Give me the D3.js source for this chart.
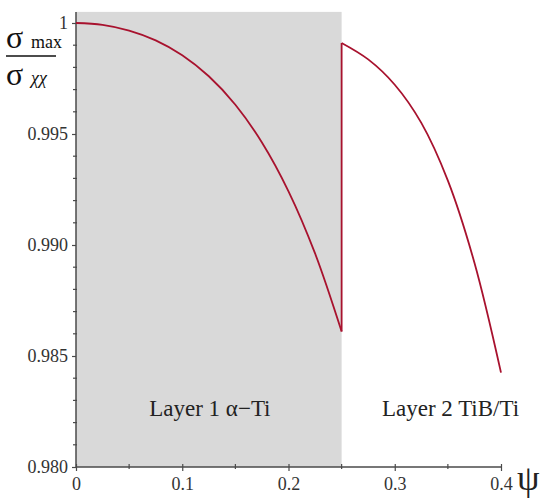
<!DOCTYPE html>
<html><head><meta charset="utf-8">
<script src="https://cdn.jsdelivr.net/npm/d3@7/dist/d3.min.js"></script>
<style>body{margin:0;background:#fff}svg{display:block}</style>
</head><body>
<script>
// Data
const layer1Psi = [0, 0.025, 0.05, 0.075, 0.1, 0.125, 0.15, 0.175, 0.2, 0.225, 0.25];
const layer1Val = [1.0, 0.99992, 0.99966, 0.99922, 0.99855, 0.99760, 0.99632, 0.99462, 0.99242, 0.98962, 0.98610];
const layer2Psi = [0.25, 0.275, 0.3, 0.325, 0.35, 0.375, 0.4];
const layer2Val = [0.99910, 0.99836, 0.99722, 0.99550, 0.99290, 0.98920, 0.98425];
const xTicks = [0, 0.1, 0.2, 0.3, 0.4];
const xTickLabels = ["0", "0.1", "0.2", "0.3", "0.4"];
const xMinor = [0.05, 0.15, 0.25, 0.35];
const yTicks = [0.98, 0.985, 0.99, 0.995, 1.0];
const yTickLabels = ["0.980", "0.985", "0.990", "0.995", "1"];
const yMinor = d3.range(0, 20).map(i => +(0.98 + i * 0.001).toFixed(3)).filter(v => !yTicks.some(t => Math.abs(t - v) < 1e-9));
const layerLabels = ["Layer 1 α\u2212Ti", "Layer 2 TiB/Ti"];
const layerCenters = [0.126, 0.3525];
const shadeRange = [0, 0.25];

const W = 550, H = 503;
const svg = d3.select("body").append("svg").attr("width", W).attr("height", H);
const x = d3.scaleLinear().domain([0, 0.4]).range([76, 501]);
const y = d3.scaleLinear().domain([0.98, 1.0]).range([467, 23]);
const serif = "'Liberation Serif', 'Times New Roman', serif";

// shaded region
svg.append("rect")
  .attr("x", x(shadeRange[0])).attr("y", y(1.0005))
  .attr("width", x(shadeRange[1]) - x(shadeRange[0]))
  .attr("height", y(0.98) - y(1.0005))
  .attr("fill", "#d9d9d9");

// layer labels
svg.selectAll("text.layer").data(layerLabels).enter().append("text")
  .attr("class", "layer")
  .attr("x", (d, i) => x(layerCenters[i])).attr("y", 416)
  .attr("text-anchor", "middle")
  .attr("font-family", serif).attr("font-size", 23).attr("fill", "#222")
  .text(d => d);

// axes
const axisColor = "#4a4a4a";
const xAxis = d3.axisBottom(x).tickValues(xTicks).tickFormat((d, i) => xTickLabels[i]).tickSize(4).tickPadding(6);
const gx = svg.append("g").attr("transform", `translate(0,${y(0.98)})`).call(xAxis);
gx.select(".domain").attr("stroke", axisColor).attr("stroke-width", 1.5).attr("d", `M${x(0)},0H${x(0.4)}`);
gx.selectAll(".tick line").attr("stroke", axisColor).attr("y1", -3).attr("stroke-width", 1.2);
gx.selectAll(".tick text").attr("font-family", serif).attr("font-size", 18).attr("fill", "#333");
const gxm = svg.append("g").attr("transform", `translate(0,${y(0.98)})`);
gxm.selectAll("line").data(xMinor).enter().append("line")
  .attr("x1", d => x(d)).attr("x2", d => x(d)).attr("y1", -3).attr("y2", 2)
  .attr("stroke", axisColor).attr("stroke-width", 1.2);

const yAxis = d3.axisLeft(y).tickValues(yTicks).tickFormat((d, i) => yTickLabels[i]).tickSize(4).tickPadding(4);
const gy = svg.append("g").attr("transform", `translate(${x(0)},0)`).call(yAxis);
gy.select(".domain").attr("stroke", axisColor).attr("stroke-width", 1.5).attr("d", `M0,${y(0.98)}V${y(1.0005)}`);
gy.selectAll(".tick line").attr("stroke", axisColor).attr("stroke-width", 1.2);
gy.selectAll(".tick text").attr("font-family", serif).attr("font-size", 18).attr("fill", "#333");
const gym = svg.append("g").attr("transform", `translate(${x(0)},0)`);
gym.selectAll("line").data(yMinor).enter().append("line")
  .attr("x1", -3).attr("x2", 1).attr("y1", d => y(d)).attr("y2", d => y(d))
  .attr("stroke", axisColor).attr("stroke-width", 1.2);

// curves
const lineColor = "#a8122e";
const line = d3.line().x(d => x(d[0])).y(d => y(d[1])).curve(d3.curveCatmullRom);
svg.append("path").datum(layer1Psi.map((p, i) => [p, layer1Val[i]]))
  .attr("d", line).attr("fill", "none").attr("stroke", lineColor).attr("stroke-width", 1.8);
svg.append("path").datum([[layer1Psi[layer1Psi.length - 1], layer1Val[layer1Val.length - 1]], [layer2Psi[0], layer2Val[0]]])
  .attr("d", d3.line().x(d => x(d[0])).y(d => y(d[1]))).attr("fill", "none").attr("stroke", lineColor).attr("stroke-width", 1.8);
svg.append("path").datum(layer2Psi.map((p, i) => [p, layer2Val[i]]))
  .attr("d", line).attr("fill", "none").attr("stroke", lineColor).attr("stroke-width", 1.8);

// axis titles
svg.append("text").attr("x", 517).attr("y", 490).attr("font-family", serif).attr("font-size", 36).attr("fill", "#222").text("ψ");
const yl = svg.append("g").attr("font-family", serif).attr("fill", "#111");
yl.append("text").attr("x", 6).attr("y", 48).attr("font-size", 32).text("σ");
yl.append("text").attr("x", 31).attr("y", 48).attr("font-size", 18).text("max");
yl.append("line").attr("x1", 6).attr("x2", 56).attr("y1", 56).attr("y2", 56).attr("stroke", "#111").attr("stroke-width", 1.5);
yl.append("text").attr("x", 6).attr("y", 85).attr("font-size", 32).text("σ");
yl.append("text").attr("x", 31).attr("y", 84).attr("font-size", 18).attr("font-style", "italic").text("χχ");
</script>
</body></html>
